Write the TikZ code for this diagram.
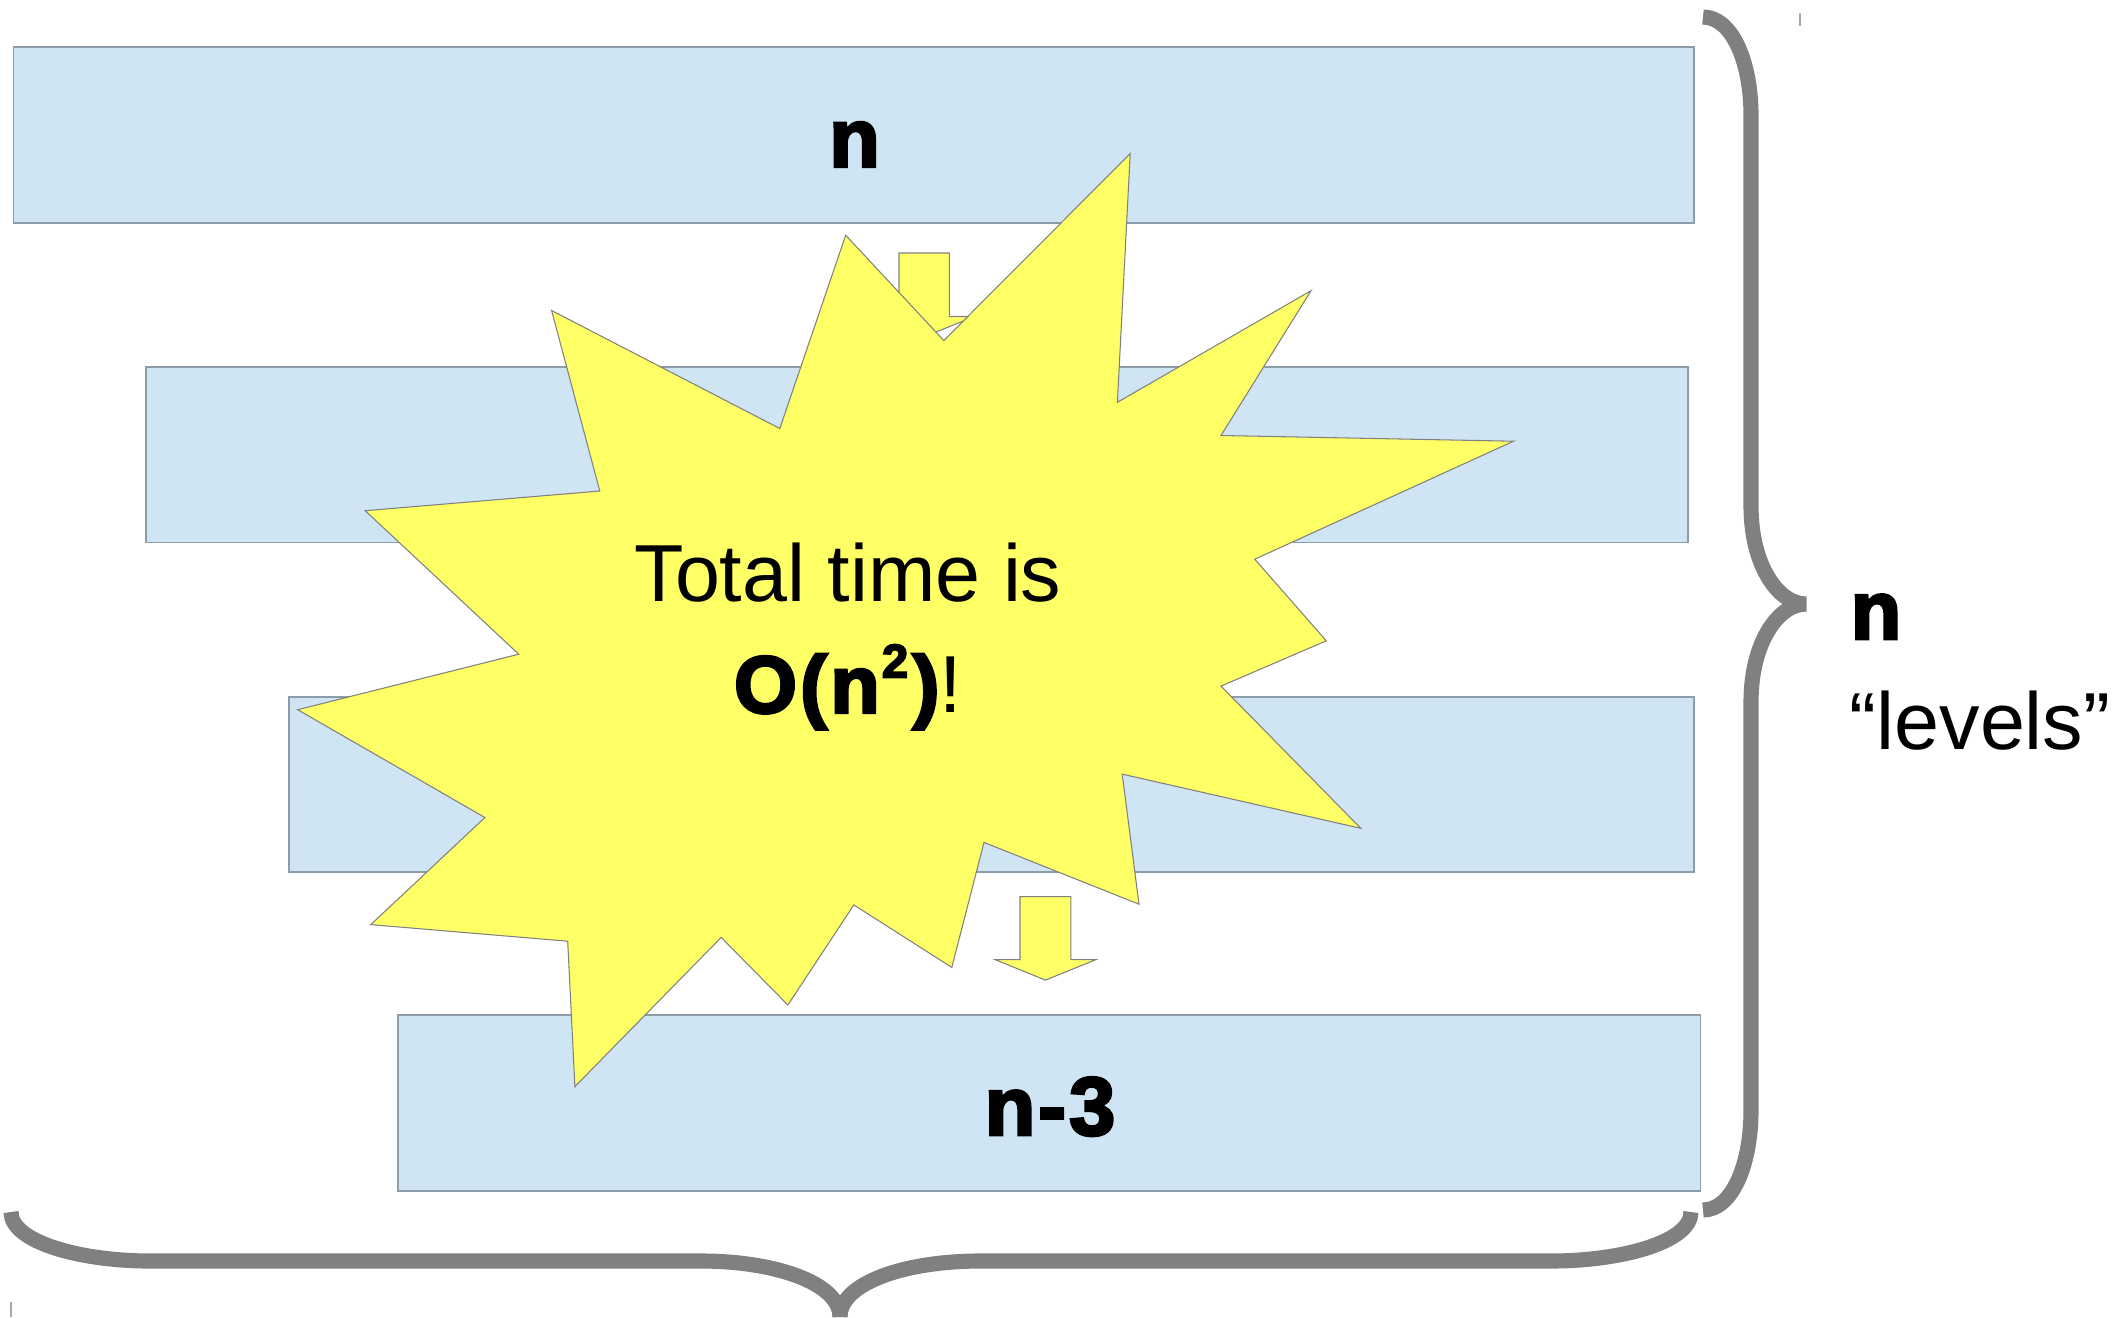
\documentclass[tikz,border=0pt]{standalone}
\usepackage{fontspec}
\setmainfont{Liberation Sans}
\newfontfamily\heavyfont{Liberation Sans Bold}[FakeBold=3.5, LetterSpace=4]
\definecolor{boxfill}{HTML}{CFE5F3}
\definecolor{boxline}{HTML}{8C9CA8}
\definecolor{starfill}{HTML}{FFFF66}
\definecolor{braceg}{HTML}{808080}
\tikzset{
  levelbox/.style={fill=boxfill, draw=boxline, line width=0.35pt},
  yellowshape/.style={fill=starfill, draw=gray, line width=0.3pt, line join=miter},
  bracestroke/.style={draw=braceg, line width=4.3pt, line cap=butt},
  txt/.style={inner sep=0pt, anchor=base, font=\fontsize{23}{27}\selectfont},
  boldtxt/.style={txt, font=\fontsize{23.5}{27}\selectfont\heavyfont},
  tick/.style={draw=gray!70, line width=0.4pt}
}
\begin{document}
\begin{tikzpicture}[x=0.01cm, y=-0.01cm]
\useasboundingbox (0,0) rectangle (2114,1317);
% level boxes
\draw[levelbox] (13.5,47) rectangle (1694,223);
\draw[levelbox] (146,367) rectangle (1688,542.5);
\draw[levelbox] (289,697) rectangle (1694,872);
\draw[levelbox] (398,1015) rectangle (1700.5,1191);
% down arrows
\draw[yellowshape] (899,253) -- (949.4,253) -- (949.4,316.5) -- (974.5,316.5) -- (924.1,336.8) -- (873.8,316.5) -- (899,316.5) -- cycle;
\draw[yellowshape] (1020,896.6) -- (1070.8,896.6) -- (1070.8,959.7) -- (1095.7,959.7) -- (1045.5,980.1) -- (995.2,959.7) -- (1020,959.7) -- cycle;
% starburst
\draw[yellowshape] (1130.2,153.6) -- (1117.4,402.3) -- (1311.0,290.7) -- (1221.0,435.5) -- (1513.5,441.2)
  -- (1254.8,559.2) -- (1326.3,640.8) -- (1221.0,686.1) -- (1360.8,828.3) -- (1122.2,774.1)
  -- (1139.0,904.2) -- (984.0,842.4) -- (951.8,967.4) -- (853.8,904.9) -- (787.9,1005.0)
  -- (721.2,937.4) -- (574.9,1086.6) -- (567.7,941.2) -- (370.8,924.6) -- (484.9,817.5)
  -- (297.7,709.7) -- (518.7,654.2) -- (365.2,510.7) -- (599.8,491.0) -- (551.6,310.5)
  -- (779.8,428.5) -- (845.7,235.2) -- (943.8,340.5) -- cycle;
% texts
\node[boldtxt] (ltop) at (854.5,166.7) {n};
\node[boldtxt] (lbot) at (1050,1135) {n-3};
\node[txt] (tot1) at (848,601.7) {Total time is};
\node[txt] (tot2) at (848,712.7) {{\heavyfont O(n\kern0.6pt\raisebox{10pt}{\fontsize{13.5}{14}\selectfont 2}\kern1.2pt)}!};
\node[boldtxt, anchor=base west] (nlev) at (1850,639) {n};
\node[txt, anchor=base west] (levels) at (1849,749) {“levels”};
% right brace
\draw[bracestroke] (1703,17) .. controls (1732,17) and (1751,62) .. (1751,115)
  -- (1751,506) .. controls (1751,565) and (1778,604) .. (1806,604)
  .. controls (1778,604) and (1751,643) .. (1751,702)
  -- (1751,1110) .. controls (1751,1165) and (1732,1210) .. (1703,1210);
% bottom brace
\draw[bracestroke] (11,1212) .. controls (11,1242) and (80,1261) .. (150,1261)
  -- (701,1261) .. controls (775,1261) and (840,1283) .. (840,1317);
\draw[bracestroke] (840,1317) .. controls (840,1283) and (905,1261) .. (980,1261)
  -- (1551,1261) .. controls (1622,1261) and (1691,1242) .. (1691,1212);
% small marks
\draw[tick] (1800,13) -- (1800,26);
\draw[tick] (11,1302) -- (11,1317);
\end{tikzpicture}
\end{document}
